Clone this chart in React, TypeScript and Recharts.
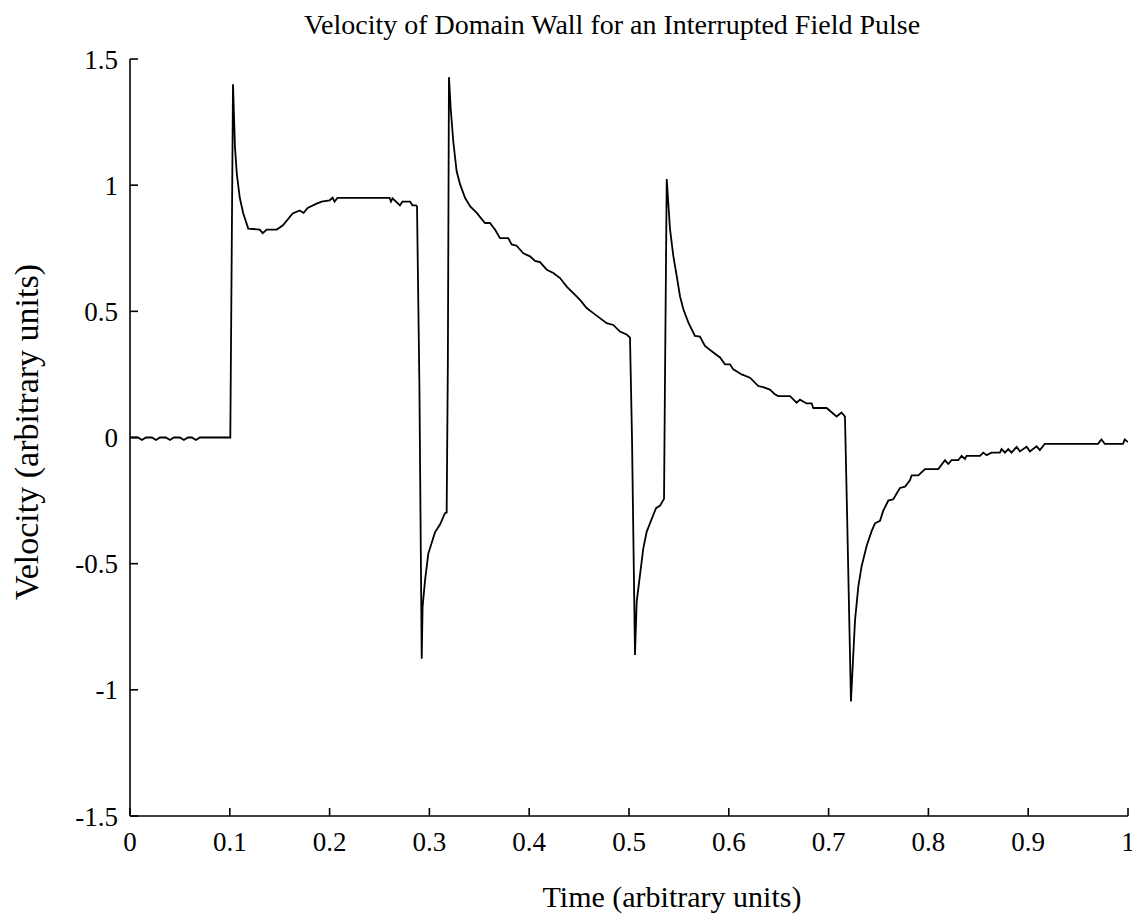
import React from 'react';
import { LineChart, Line, XAxis, YAxis } from 'recharts';

const timeValues = [
  0, 0.008, 0.012, 0.016, 0.022, 0.026, 0.03, 0.036, 0.04, 0.044, 0.05, 0.054, 0.058, 0.062, 0.066, 0.07, 0.085, 0.1005,
  0.1032, 0.1052, 0.107, 0.11, 0.1135, 0.1185, 0.13, 0.133, 0.137, 0.147, 0.153, 0.163, 0.17, 0.174, 0.178, 0.187,
  0.192, 0.2, 0.203, 0.205, 0.208, 0.26, 0.2615, 0.263, 0.2705, 0.273, 0.2806, 0.283, 0.2866,
  0.2876, 0.29, 0.2923, 0.2932, 0.2956, 0.2989, 0.3056, 0.3106, 0.3156, 0.3173, 0.3185,
  0.3196, 0.3213, 0.3239, 0.3273, 0.3307, 0.3357, 0.3407, 0.3474, 0.3557, 0.3607, 0.3657, 0.3707, 0.379, 0.3824,
  0.3874, 0.3941, 0.4008, 0.4058, 0.4108, 0.4176, 0.4242, 0.4309, 0.4376, 0.4442, 0.4509, 0.4576, 0.4642, 0.4709,
  0.4776, 0.4843, 0.4909, 0.4976, 0.501,
  0.503, 0.506, 0.5077, 0.511, 0.5143, 0.5177, 0.5243, 0.5271, 0.5311, 0.5351, 0.536,
  0.5378, 0.5411, 0.5444, 0.5478, 0.5511, 0.5544, 0.5594, 0.5661, 0.5711, 0.5761, 0.5845, 0.5912, 0.5962, 0.6012,
  0.6045, 0.6129, 0.6212, 0.6295, 0.6345, 0.6412, 0.6462, 0.6495, 0.6613, 0.668, 0.6713, 0.678, 0.683, 0.6847,
  0.698, 0.708, 0.713, 0.7164,
  0.7185, 0.7224, 0.7248, 0.7265, 0.7298, 0.7331, 0.7381, 0.7432, 0.7465, 0.7515, 0.7548, 0.7598, 0.7648, 0.7715,
  0.7765, 0.7815, 0.7832, 0.7899, 0.7966, 0.8099, 0.8166, 0.8199, 0.8232, 0.8299, 0.8333, 0.8366, 0.8383, 0.8517,
  0.855, 0.8583, 0.8633, 0.8717, 0.8733, 0.8767, 0.88, 0.8833, 0.8884, 0.8917, 0.8984, 0.9017, 0.9084, 0.9117,
  0.9167, 0.97, 0.9734, 0.9767, 0.995, 0.9967, 1.0,
];

const velocityValues = [
  0, 0, -0.01, 0, 0, -0.01, 0, 0, -0.01, 0, 0, -0.01, 0, 0, -0.01, 0, 0, 0,
  1.4, 1.15, 1.046, 0.95, 0.888, 0.828, 0.824, 0.81, 0.824, 0.824, 0.84, 0.888, 0.9, 0.89, 0.91, 0.927,
  0.935, 0.94, 0.95, 0.935, 0.95, 0.95, 0.935, 0.948, 0.92, 0.935, 0.935, 0.92, 0.92,
  0.915, 0.2, -0.877, -0.67, -0.567, -0.46, -0.376, -0.345, -0.3, -0.298, 0.3,
  1.428, 1.306, 1.174, 1.055, 1.004, 0.95, 0.917, 0.89, 0.85, 0.85, 0.824, 0.79, 0.79, 0.765,
  0.76, 0.73, 0.718, 0.7, 0.695, 0.665, 0.652, 0.632, 0.598, 0.572, 0.545, 0.513, 0.493, 0.473,
  0.453, 0.446, 0.42, 0.408, 0.396,
  0.0, -0.862, -0.65, -0.545, -0.44, -0.374, -0.307, -0.28, -0.27, -0.243, 0.2,
  1.024, 0.826, 0.72, 0.64, 0.56, 0.509, 0.456, 0.403, 0.4, 0.363, 0.337, 0.317, 0.29, 0.29,
  0.27, 0.25, 0.237, 0.204, 0.2, 0.19, 0.171, 0.164, 0.164, 0.138, 0.15, 0.135, 0.135, 0.117,
  0.117, 0.083, 0.099, 0.083,
  -0.3, -1.046, -0.855, -0.723, -0.59, -0.51, -0.43, -0.37, -0.34, -0.33, -0.29, -0.25, -0.245, -0.2,
  -0.195, -0.17, -0.15, -0.15, -0.125, -0.125, -0.09, -0.105, -0.09, -0.09, -0.073, -0.085, -0.073, -0.073,
  -0.06, -0.07, -0.06, -0.06, -0.046, -0.06, -0.046, -0.06, -0.037, -0.055, -0.037, -0.055, -0.035, -0.05,
  -0.025, -0.025, -0.008, -0.025, -0.025, -0.008, -0.018,
];

const xTicks = [0, 0.1, 0.2, 0.3, 0.4, 0.5, 0.6, 0.7, 0.8, 0.9, 1];
const yTicks = [-1.5, -1, -0.5, 0, 0.5, 1, 1.5];

const titleText = 'Velocity of Domain Wall for an Interrupted Field Pulse';
const xLabelText = 'Time (arbitrary units)';
const yLabelText = 'Velocity (arbitrary units)';

const data = timeValues.map((t, i) => ({ t, v: velocityValues[i] }));

const FONT = "'Liberation Serif', 'Times New Roman', Times, serif";
const W = 1132;
const H = 916;
const PLOT_LEFT = 130;
const PLOT_RIGHT = 1128;
const PLOT_TOP = 59;
const PLOT_BOTTOM = 816;

const tickStyle = { fill: '#000', fontSize: 27, fontFamily: FONT };
const lineStyle = { stroke: '#000', strokeWidth: 1.6 };

export default function App() {
  return (
    <div style={{ position: 'absolute', left: 0, top: 0, width: W, height: H, background: '#fff' }}>
      <LineChart
        width={W}
        height={H}
        data={data}
        margin={{ top: PLOT_TOP, right: W - PLOT_RIGHT, bottom: H - PLOT_BOTTOM - 30, left: PLOT_LEFT - 60 }}
      >
        <XAxis
          xAxisId="bottom"
          dataKey="t"
          type="number"
          domain={[0, 1]}
          ticks={xTicks}
          interval={0}
          height={30}
          orientation="bottom"
          tickSize={-8}
          tickMargin={24}
          tick={tickStyle}
          tickFormatter={(v: number) => String(v)}
          axisLine={lineStyle}
          tickLine={lineStyle}
          allowDataOverflow
        />
        <XAxis
          xAxisId="top"
          dataKey="t"
          type="number"
          domain={[0, 1]}
          ticks={xTicks}
          interval={0}
          height={0}
          orientation="top"
          tickSize={-8}
          tick={false}
          axisLine={lineStyle}
          tickLine={lineStyle}
          allowDataOverflow
        />
        <YAxis
          yAxisId="left"
          type="number"
          domain={[-1.5, 1.5]}
          ticks={yTicks}
          interval={0}
          width={60}
          orientation="left"
          tickSize={-8}
          tickMargin={20}
          tick={tickStyle}
          tickFormatter={(v: number) => String(v)}
          axisLine={lineStyle}
          tickLine={lineStyle}
          allowDataOverflow
        />
        <YAxis
          yAxisId="right"
          type="number"
          domain={[-1.5, 1.5]}
          ticks={yTicks}
          interval={0}
          width={0}
          orientation="right"
          tickSize={-8}
          tick={false}
          axisLine={lineStyle}
          tickLine={lineStyle}
          allowDataOverflow
        />
        <Line
          xAxisId="bottom"
          yAxisId="left"
          dataKey="v"
          type="linear"
          stroke="#000"
          strokeWidth={1.8}
          dot={false}
          activeDot={false}
          isAnimationActive={false}
        />
      </LineChart>
      <svg
        width={W}
        height={H}
        style={{ position: 'absolute', left: 0, top: 0, pointerEvents: 'none' }}
      >
        <text x={612} y={34} textAnchor="middle" fontFamily={FONT} fontSize={28} fill="#000">
          {titleText}
        </text>
        <text x={672} y={907} textAnchor="middle" fontFamily={FONT} fontSize={30} fill="#000">
          {xLabelText}
        </text>
        <text
          x={0}
          y={0}
          transform={`translate(38, 432) rotate(-90)`}
          textAnchor="middle"
          fontFamily={FONT}
          fontSize={34}
          fill="#000"
        >
          {yLabelText}
        </text>
      </svg>
    </div>
  );
}
